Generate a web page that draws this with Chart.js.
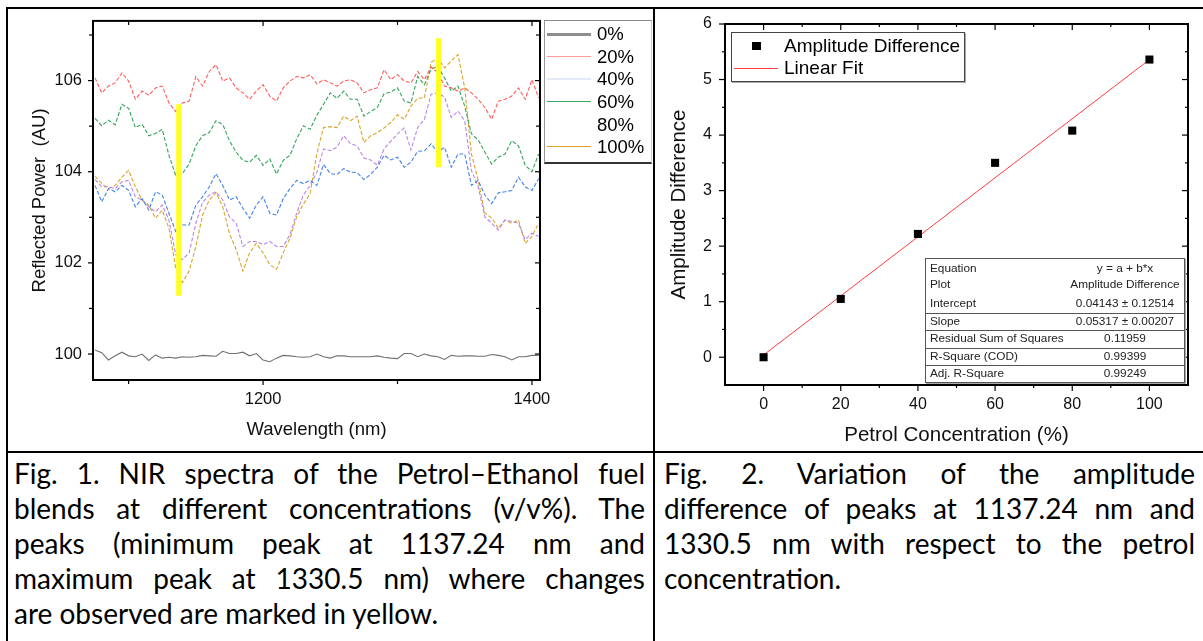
<!DOCTYPE html>
<html><head><meta charset="utf-8">
<script src="https://cdn.jsdelivr.net/npm/chart.js@4.4.0/dist/chart.umd.min.js"></script>
<style>
html,body{margin:0;padding:0;background:#fff;}
body{width:1203px;height:641px;position:relative;overflow:hidden;font-family:"Liberation Sans",Arial,sans-serif;color:#000;}
.abs{position:absolute;}
canvas{display:block;}
.bd{position:absolute;background:#000;z-index:5;}
.cap{position:absolute;font-family:Lato,"Open Sans",sans-serif;font-size:28px;line-height:35px;color:#000;}
.cap div{text-align:justify;text-align-last:justify;white-space:nowrap;}
.cap div.last{text-align:left;text-align-last:left;}
#leg1{position:absolute;left:544px;top:20px;width:106px;height:141px;border-top:1px solid #8a8a8a;border-bottom:2px solid #333;border-left:1px solid #999;border-right:1px solid #ccc;background:#fff;z-index:3;}
.l1line{position:absolute;left:547px;width:44px;z-index:4;}
.l1txt{position:absolute;left:597px;font-size:18.5px;line-height:20px;z-index:4;}
#leg2{position:absolute;left:731px;top:32px;width:232px;height:48px;border:1px solid #444;box-shadow:1px 1px 0 #aaa;background:#fff;z-index:3;}
.l2txt{position:absolute;left:784px;font-size:19px;line-height:22px;z-index:4;}
#stats{position:absolute;left:925px;top:258px;width:258px;height:123px;border:1px solid #555;box-shadow:1px 1px 0 #aaa;background:#fff;z-index:3;font-size:11.8px;color:#222;}
.srow{position:absolute;left:0;width:258px;height:16px;line-height:16px;}
.slab{position:absolute;left:4px;}
.sval{position:absolute;left:140px;width:118px;text-align:center;}
.ssep{position:absolute;left:0;width:258px;height:1px;background:#555;}
</style>
</head>
<body>
<div class="abs" style="left:0;top:0;width:653px;height:450px;"><canvas id="c1" width="653" height="450"></canvas></div>
<div class="abs" style="left:654px;top:0;width:549px;height:450px;"><canvas id="c2" width="549" height="450"></canvas></div>

<div id="leg1"></div>
<div id="leg2"></div>
<div id="stats"></div>

<div class="bd" style="left:6px;top:7px;width:1197px;height:2px;"></div>
<div class="bd" style="left:6px;top:7px;width:2px;height:634px;"></div>
<div class="bd" style="left:653px;top:7px;width:2px;height:634px;"></div>
<div class="bd" style="left:6px;top:451px;width:1197px;height:2px;"></div>

<div class="cap" id="cap1" style="left:14px;top:456px;width:631px;"></div>
<div class="cap" id="cap2" style="left:664px;top:456px;width:531px;"></div>

<script>
// ---------- Fig. 1 data ----------
const wavelength = [1075,1080,1085,1090,1095,1100,1105,1110,1115,1120,1125,1130,1135,1140,1145,1150,1155,
  1160,1165,1170,1175,1180,1185,1190,1195,1200,1205,1210,1215,1220,1225,1230,1235,
  1240,1245,1250,1255,1260,1265,1270,1275,1280,1285,1290,1295,1300,1305,1310,1315,1320,
  1325,1330,1335,1340,1345,1350,1355,1360,1365,1370,1375,1380,1385,1390,1395,1400,1405];
const petrol0 = [100.09,100.03,99.87,99.96,100.04,99.96,99.94,100.00,99.86,99.98,99.91,99.93,99.91,99.94,99.93,99.94,99.97,
  99.96,99.95,100.06,100.01,100.01,100.04,99.96,100.01,99.87,99.83,99.91,99.97,99.96,99.94,99.93,99.94,
  100.00,99.94,99.91,99.96,99.96,99.94,99.94,99.94,99.94,99.96,99.93,99.91,99.90,100.01,100.01,99.94,100.00,
  99.96,99.94,99.88,99.97,99.95,99.96,99.96,99.95,99.95,99.99,99.97,99.94,99.87,99.94,99.94,99.97,99.97];
const petrol20 = [106.06,105.73,105.88,105.95,106.17,105.99,105.59,105.77,105.68,105.84,105.88,105.51,105.32,105.51,105.55,106.09,105.88,
  106.20,106.35,105.99,106.06,105.84,105.73,105.59,105.77,105.91,105.66,105.55,105.84,105.99,106.09,106.06,106.13,
  105.93,106.02,105.95,105.88,105.99,106.02,105.95,105.73,105.80,105.84,106.24,106.02,106.13,105.99,105.95,106.20,106.02,
  106.30,106.17,105.88,105.84,105.77,105.84,105.73,105.59,105.41,105.15,105.55,105.59,105.66,105.84,105.59,106.02,105.62];
const petrol40 = [103.70,103.34,103.63,103.56,103.70,103.59,103.23,103.41,103.16,103.56,103.49,103.09,102.69,102.83,102.83,103.27,103.45,
  103.67,103.96,103.70,103.38,103.45,103.20,102.98,103.27,103.45,103.09,103.05,103.41,103.63,103.81,103.74,103.81,
  103.70,104.16,103.96,103.94,104.07,103.99,103.98,103.83,103.94,104.10,104.36,104.26,104.32,104.10,104.21,104.45,104.46,
  104.61,104.43,104.54,104.10,104.39,104.39,103.70,103.81,103.49,103.30,103.54,103.56,103.59,103.88,103.67,103.59,103.85];
const petrol60 = [105.17,105.01,105.13,105.03,105.48,105.39,104.97,105.04,104.79,104.84,104.93,104.36,103.92,103.96,104.17,104.57,104.79,
  104.86,105.12,105.04,104.68,104.43,104.25,104.21,104.36,104.14,104.28,103.95,104.25,104.36,104.72,105.01,104.93,
  105.24,105.48,105.73,105.61,105.77,105.59,105.59,105.22,105.32,105.41,105.71,105.75,105.84,105.55,105.51,106.09,105.91,
  106.25,106.31,106.06,105.77,105.88,105.44,104.83,104.70,104.43,104.17,104.32,104.39,104.68,104.57,104.14,104.00,104.39];
const petrol80 = [103.83,103.67,103.67,103.63,103.78,103.81,103.45,103.38,103.23,103.12,103.27,102.94,102.18,102.07,102.22,102.87,103.33,
  103.49,103.56,103.38,103.01,102.87,102.36,102.47,102.47,102.40,102.47,102.36,102.36,102.62,103.09,103.49,103.70,
  103.99,104.50,104.46,104.54,104.79,104.62,104.57,104.30,104.26,104.14,104.50,104.67,104.83,104.96,104.48,104.97,105.15,
  105.70,105.73,105.64,105.19,105.33,105.12,104.03,103.67,103.01,102.87,102.72,102.94,102.91,102.87,102.51,102.65,102.58];
const petrol100 = [103.90,103.74,103.63,103.70,103.88,104.03,103.67,103.38,103.27,102.98,103.16,102.76,101.89,101.57,101.82,102.36,103.05,
  103.38,103.54,103.23,102.65,102.29,101.82,102.22,102.43,102.22,101.96,101.86,102.22,102.54,103.01,103.29,103.52,
  104.40,104.97,104.99,104.97,105.22,105.12,105.22,104.64,104.79,104.86,104.96,105.08,105.25,105.15,105.44,105.61,105.62,
  106.40,106.49,106.28,106.43,106.57,105.84,104.39,103.81,103.09,102.99,102.76,102.94,102.87,102.94,102.43,102.58,102.87];
const seriesLabels = ['0%','20%','40%','60%','80%','100%'];
const peakX = [1137.24, 1330.5];
const peakTop = [105.48, 106.93];
const peakBottom = [101.28, 104.10];
const fig1XTicks = [1200, 1400];
const fig1XMinor = [1100, 1300];
const fig1YTicks = [100, 102, 104, 106];
const fig1YMinor = [101, 103, 105, 107];

// ---------- Fig. 2 data ----------
const concentration = [0, 20, 40, 60, 80, 100];
const amplitudeDiff = [0, 1.05, 2.22, 3.50, 4.08, 5.36];
const fitX = [0, 100];
const fitY = [0.041, 5.358];
const fig2XTicks = [0, 20, 40, 60, 80, 100];
const fig2XMinor = [10, 30, 50, 70, 90];
const fig2YTicks = [0, 1, 2, 3, 4, 5, 6];
const fig2YMinor = [0.5, 1.5, 2.5, 3.5, 4.5, 5.5];
const statsRows = [
  ['Equation', 'y = a + b*x'],
  ['Plot', 'Amplitude Difference'],
  ['Intercept', '0.04143 ± 0.12514'],
  ['Slope', '0.05317 ± 0.00207'],
  ['Residual Sum of Squares', '0.11959'],
  ['R-Square (COD)', '0.99399'],
  ['Adj. R-Square', '0.99249']
];
const caption1 = ['Fig. 1. NIR spectra of the Petrol–Ethanol fuel',
  'blends at different concentrations (v/v%). The',
  'peaks (minimum peak at 1137.24 nm and',
  'maximum peak at 1330.5 nm) where changes',
  'are observed are marked in yellow.'];
const caption2 = ['Fig. 2. Variation of the amplitude',
  'difference of peaks at 1137.24 nm and',
  '1330.5 nm with respect to the petrol',
  'concentration.'];

// ---------- styles ----------
const lineColors = ['#707070','#ff5c5c','#4383ea','#34a35b','#bb86ea','#d8a52a'];
const legendColors = ['#8e8e8e','#ff9a9a','#e6e9f8','#3aa862','#ffffff','#d9a422'];
const legendWidths = [2.5, 1, 2, 1, 1, 1];

Chart.defaults.font.family = "'Liberation Sans', Arial, sans-serif";
Chart.defaults.color = '#000';

const frameTicks = {
  id: 'frameTicks',
  afterDraw(chart, args, o) {
    const {ctx, chartArea: a, scales: {x, y}} = chart;
    ctx.save();
    ctx.strokeStyle = '#000';
    ctx.lineWidth = 1.2;
    const seg = (x1, y1, x2, y2) => { ctx.beginPath(); ctx.moveTo(x1, y1); ctx.lineTo(x2, y2); ctx.stroke(); };
    o.xMajor.forEach(v => { const p = x.getPixelForValue(v); seg(p, a.bottom, p, a.bottom + o.major); seg(p, a.top, p, a.top + o.major); });
    o.xMinor.forEach(v => { const p = x.getPixelForValue(v); seg(p, a.bottom, p, a.bottom + o.minor); seg(p, a.top, p, a.top + o.minor); });
    o.yMajor.forEach(v => { const p = y.getPixelForValue(v); seg(a.left, p, a.left - o.major, p); seg(a.right, p, a.right - o.major, p); });
    o.yMinor.forEach(v => { const p = y.getPixelForValue(v); seg(a.left, p, a.left - o.minor, p); seg(a.right, p, a.right - o.minor, p); });
    ctx.lineWidth = 2;
    ctx.strokeRect(a.left, a.top, a.right - a.left, a.bottom - a.top);
    ctx.restore();
  }
};
const plain = v => String(v);

// ---------- Fig. 1 chart ----------
const seriesData = [petrol0, petrol20, petrol40, petrol60, petrol80, petrol100];
const ds1 = seriesData.map((s, i) => ({
  label: seriesLabels[i],
  data: wavelength.map((w, j) => ({x: w, y: s[j]})),
  borderColor: lineColors[i],
  borderWidth: 1.1,
  borderDash: i === 0 ? [] : [4, 2],
  pointRadius: 0,
  tension: 0,
  fill: false,
  order: 1
}));
peakX.forEach((px, i) => ds1.push({
  label: 'peak' + i,
  data: [{x: px, y: peakTop[i]}, {x: px, y: peakBottom[i]}],
  borderColor: '#ffff22',
  borderWidth: 5,
  pointRadius: 0,
  borderCapStyle: 'butt',
  order: 0
}));

new Chart(document.getElementById('c1'), {
  type: 'line',
  data: {datasets: ds1},
  options: {
    responsive: false, animation: false, devicePixelRatio: 1,
    layout: {padding: {left: 0, top: 19, right: 113, bottom: 0}},
    plugins: {legend: {display: false}, tooltip: {enabled: false},
      frameTicks: {xMajor: fig1XTicks, xMinor: fig1XMinor, yMajor: fig1YTicks, yMinor: fig1YMinor, major: 5, minor: 4}},
    scales: {
      x: {type: 'linear', min: 1073.5, max: 1406,
        afterBuildTicks: s => { s.ticks = fig1XTicks.map(v => ({value: v})); },
        afterFit: s => { s.height = 70; },
        grid: {display: false, drawTicks: false}, border: {display: false},
        ticks: {padding: 10, font: {size: 16.5}, color: '#111', callback: plain},
        title: {display: true, text: 'Wavelength (nm)', font: {size: 18.5}, padding: {top: 0, bottom: 8.9}, color: '#111'}},
      y: {type: 'linear', min: 99.43, max: 107.31,
        afterBuildTicks: s => { s.ticks = fig1YTicks.map(v => ({value: v})); },
        afterFit: s => { s.width = 93; },
        grid: {display: false, drawTicks: false}, border: {display: false},
        ticks: {padding: 11, font: {size: 16.5}, color: '#111', callback: plain},
        title: {display: true, text: 'Reflected Power  (AU)', font: {size: 18.5}, padding: {top: 28.9, bottom: 0}, color: '#111'}}
    }
  },
  plugins: [frameTicks]
});

// ---------- Fig. 2 chart ----------
new Chart(document.getElementById('c2'), {
  type: 'scatter',
  data: {datasets: [
    {label: 'Amplitude Difference', data: concentration.map((c, i) => ({x: c, y: amplitudeDiff[i]})),
      pointStyle: 'rect', pointRadius: 5.7, backgroundColor: '#000', borderColor: '#000', borderWidth: 0, order: 0},
    {label: 'Linear Fit', data: fitX.map((c, i) => ({x: c, y: fitY[i]})), showLine: true,
      borderColor: '#ff3b3b', borderWidth: 1, pointRadius: 0, order: 1}
  ]},
  options: {
    responsive: false, animation: false, devicePixelRatio: 1,
    layout: {padding: {left: 0, top: 24, right: 15, bottom: 0}},
    plugins: {legend: {display: false}, tooltip: {enabled: false},
      frameTicks: {xMajor: fig2XTicks, xMinor: fig2XMinor, yMajor: fig2YTicks, yMinor: fig2YMinor, major: 6, minor: 3}},
    scales: {
      x: {type: 'linear', min: -10, max: 110,
        afterBuildTicks: s => { s.ticks = fig2XTicks.map(v => ({value: v})); },
        afterFit: s => { s.height = 65; },
        grid: {display: false, drawTicks: false}, border: {display: false},
        ticks: {padding: 10.4, font: {size: 16}, color: '#111', callback: plain},
        title: {display: true, text: 'Petrol Concentration (%)', font: {size: 20.5}, padding: {top: 0, bottom: 2.7}, color: '#111'}},
      y: {type: 'linear', min: -0.5, max: 6,
        afterBuildTicks: s => { s.ticks = fig2YTicks.map(v => ({value: v})); },
        afterFit: s => { s.width = 71; },
        grid: {display: false, drawTicks: false}, border: {display: false},
        ticks: {padding: 13, font: {size: 16}, color: '#111', callback: plain},
        title: {display: true, text: 'Amplitude Difference', font: {size: 20.5}, padding: {top: 12.7, bottom: 0}, color: '#111'}}
    }
  },
  plugins: [frameTicks]
});

// ---------- HTML legends / table / captions ----------
(function () {
  let h = '';
  seriesLabels.forEach((lab, i) => {
    const cy = Math.round(34 + i * 22.66);
    h += '<div class="l1line" style="top:' + (cy - Math.round(legendWidths[i] / 2)) + 'px;height:' + legendWidths[i] + 'px;background:' + legendColors[i] + '"></div>';
    h += '<div class="l1txt" style="top:' + (cy - 10) + 'px">' + lab + '</div>';
  });
  document.body.insertAdjacentHTML('beforeend', h);

  const l2 = '<div class="abs" style="left:752px;top:41.5px;width:8.5px;height:8.5px;background:#000;z-index:4"></div>' +
    '<div class="l2txt" style="top:34.7px">Amplitude Difference</div>' +
    '<div class="abs" style="left:734px;top:67.5px;width:44px;height:1px;background:#ff3b3b;z-index:4"></div>' +
    '<div class="l2txt" style="top:57px">Linear Fit</div>';
  document.body.insertAdjacentHTML('beforeend', l2);

  const rowCenters = [9.3, 25.3, 44.3, 62, 79.3, 97, 114.3];
  const seps = [53.7, 71.3, 88.7, 106.3];
  let s = '';
  statsRows.forEach((r, i) => {
    s += '<div class="srow" style="top:' + (rowCenters[i] - 8) + 'px"><span class="slab">' + r[0] + '</span><span class="sval">' + r[1] + '</span></div>';
  });
  seps.forEach(t => { s += '<div class="ssep" style="top:' + t + 'px"></div>'; });
  document.getElementById('stats').innerHTML = s;

  const mk = arr => arr.map((t, i) => '<div' + (i === arr.length - 1 ? ' class="last"' : '') + '>' + t + '</div>').join('');
  document.getElementById('cap1').innerHTML = mk(caption1);
  document.getElementById('cap2').innerHTML = mk(caption2);
})();
</script>
</body></html>
